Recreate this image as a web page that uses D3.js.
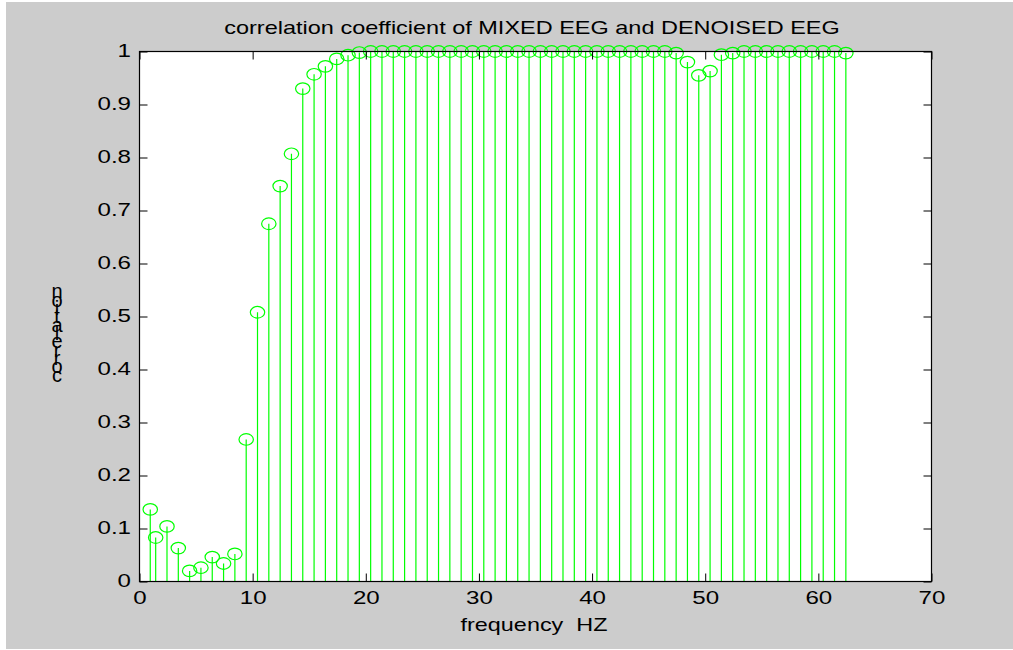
<!DOCTYPE html>
<html>
<head>
<meta charset="utf-8">
<script src="https://cdn.jsdelivr.net/npm/d3@7"></script>
<style>
  html, body { margin: 0; padding: 0; background: #ffffff; }
  svg { display: block; }
  text { font-family: "Liberation Sans", Arial, Helvetica, sans-serif; fill: #000; white-space: pre; }
</style>
</head>
<body>
<svg id="chart" width="1013" height="650"></svg>
<script>
// ---- data ----
const freqs = [0.95, 1.43, 2.43, 3.43, 4.43, 5.43, 6.43, 7.43, 8.43, 9.43,
  10.43, 11.43, 12.43, 13.43, 14.43, 15.43, 16.43, 17.43, 18.43, 19.43,
  20.43, 21.43, 22.43, 23.43, 24.43, 25.43, 26.43, 27.43, 28.43, 29.43,
  30.43, 31.43, 32.43, 33.43, 34.43, 35.43, 36.43, 37.43, 38.43, 39.43,
  40.43, 41.43, 42.43, 43.43, 44.43, 45.43, 46.43, 47.43, 48.43, 49.43,
  50.43, 51.43, 52.43, 53.43, 54.43, 55.43, 56.43, 57.43, 58.43, 59.43,
  60.43, 61.43, 62.43];
const corrValues = [0.136, 0.083, 0.104, 0.063, 0.020, 0.026, 0.046, 0.034, 0.052, 0.268,
  0.508, 0.675, 0.746, 0.807, 0.930, 0.957, 0.972, 0.986, 0.993, 0.998,
  1.000, 1.000, 1.000, 1.000, 1.000, 1.000, 1.000, 1.000, 1.000, 1.000,
  1.000, 1.000, 1.000, 1.000, 1.000, 1.000, 1.000, 1.000, 1.000, 1.000,
  1.000, 1.000, 1.000, 1.000, 1.000, 1.000, 1.000, 0.997, 0.980, 0.955,
  0.963, 0.994, 0.997, 1.000, 1.000, 1.000, 1.000, 1.000, 1.000, 1.000,
  1.000, 1.000, 0.997];
const xTicks = [0, 10, 20, 30, 40, 50, 60, 70];
const yTicks = [0, 0.1, 0.2, 0.3, 0.4, 0.5, 0.6, 0.7, 0.8, 0.9, 1];
const titleText = "correlation coefficient of MIXED EEG and DENOISED EEG";
const xLabelText = "frequency\u00A0\u00A0HZ";
const yLabelText = "correlation";

// ---- layout ----
const W = 1013, H = 650;
const L = 139.5, R = 931.5, T = 51.5, B = 581.5;
const SX = 1.34;       // horizontal stretch of the reference glyphs
const FS = 18;
const green = "#00ff00";

const svg = d3.select("#chart");
svg.append("rect").attr("x", 0).attr("y", 0).attr("width", W).attr("height", H).attr("fill", "#ffffff");
svg.append("rect").attr("x", 6).attr("y", 2).attr("width", 1007).attr("height", 647).attr("fill", "#cccccc");
svg.append("rect").attr("x", L).attr("y", T).attr("width", R - L).attr("height", B - T).attr("fill", "#ffffff");

const x = d3.scaleLinear().domain([0, 70]).range([L, R]);
const y = d3.scaleLinear().domain([0, 1]).range([B, T]);
const data = freqs.map((f, i) => ({ f, v: corrValues[i] }));

// stems
svg.append("g").selectAll("line").data(data).join("line")
  .attr("x1", d => x(d.f)).attr("x2", d => x(d.f))
  .attr("y1", y(0)).attr("y2", d => y(d.v))
  .attr("stroke", green).attr("stroke-width", 1.2);

// markers
svg.append("g").selectAll("ellipse").data(data).join("ellipse")
  .attr("cx", d => x(d.f)).attr("cy", d => y(d.v))
  .attr("rx", 7.2).attr("ry", 5.8)
  .attr("fill", "none").attr("stroke", green).attr("stroke-width", 1.2);

// axes (ticks inside, as MATLAB)
const fmtY = d => String(+d.toFixed(1));
const gB = svg.append("g").attr("transform", `translate(0,${B})`)
  .call(d3.axisBottom(x).tickValues(xTicks).tickSizeInner(-8).tickSizeOuter(0).tickPadding(10));
const gT = svg.append("g").attr("transform", `translate(0,${T})`)
  .call(d3.axisTop(x).tickValues(xTicks).tickSizeInner(-8).tickSizeOuter(0).tickFormat(""));
const gL = svg.append("g").attr("transform", `translate(${L},0)`)
  .call(d3.axisLeft(y).tickValues(yTicks).tickSizeInner(-8).tickSizeOuter(0).tickPadding(8).tickFormat(fmtY));
const gR = svg.append("g").attr("transform", `translate(${R},0)`)
  .call(d3.axisRight(y).tickValues(yTicks).tickSizeInner(-8).tickSizeOuter(0).tickFormat(""));

[gB, gT, gL, gR].forEach(g => {
  g.select(".domain").remove();
  g.selectAll(".tick line").attr("stroke", "#000").attr("stroke-width", 1);
});
gB.selectAll(".tick text")
  .attr("x", 0).attr("y", 22.8).attr("dy", null)
  .attr("transform", `scale(${SX},1)`)
  .style("font-size", FS + "px").style("font-family", '"Liberation Sans", Arial, sans-serif');
gL.selectAll(".tick text")
  .attr("x", 0).attr("dy", "0.3em")
  .attr("transform", `translate(-8.5,0) scale(${SX},1)`)
  .style("font-size", FS + "px").style("font-family", '"Liberation Sans", Arial, sans-serif');

// box
svg.append("rect").attr("x", L).attr("y", T).attr("width", R - L).attr("height", B - T)
  .attr("fill", "none").attr("stroke", "#000").attr("stroke-width", 1.2);

// title
svg.append("text")
  .attr("transform", `translate(532,33.5) scale(1.32,1)`)
  .attr("text-anchor", "middle")
  .style("font-size", "17.8px")
  .text(titleText);

// x label
svg.append("text")
  .attr("transform", `translate(534,631) scale(1.3,1)`)
  .attr("text-anchor", "middle")
  .style("font-size", "18px")
  .text(xLabelText);

// y label: upright letters stacked from bottom to top (as in the reference)
const chars = yLabelText.split("");
const yStep = 8.35, yBottom = 381.7;
svg.append("text")
  .attr("text-anchor", "middle")
  .attr("x", chars.map(() => 57).join(" "))
  .attr("y", chars.map((c, i) => (yBottom - i * yStep).toFixed(1)).join(" "))
  .style("font-size", "20px")
  .text(yLabelText);
</script>
</body>
</html>
